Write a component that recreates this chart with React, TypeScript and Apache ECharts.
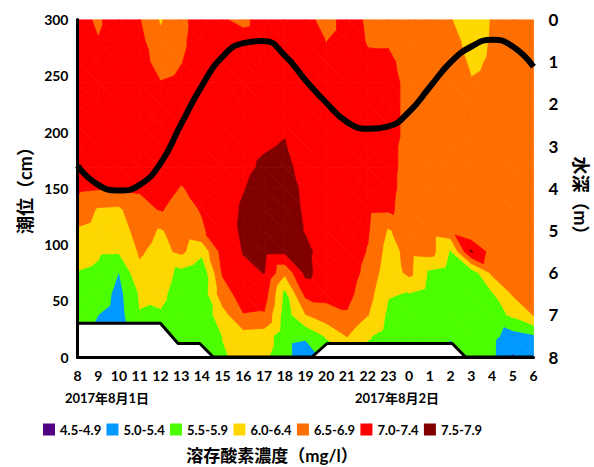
import React, { useEffect, useRef } from "react";
import * as echarts from "echarts";

// hour labels along the x axis (2017-08-01 08:00 .. 2017-08-02 06:00)
const hourLabels = ["8", "9", "10", "11", "12", "13", "14", "15", "16", "17", "18", "19", "20", "21", "22", "23", "0", "1", "2", "3", "4", "5", "6"];
// depth rows of the dissolved-oxygen grid (m)
const depths = [0, 0.5, 1, 1.5, 2, 2.5, 3, 3.5, 4, 4.5, 5, 5.5, 6, 6.5, 7, 7.5, 8];
// dissolved oxygen (mg/l): one profile per hour, top (0 m) to bottom (8 m)
const do08 = [7.22, 7.2, 7.25, 7.3, 7.3, 7.3, 7.25, 7.2, 7.1, 6.82, 6.44, 6.21, 5.98, 5.9, 5.8, 5.75, 5.7];
const do09 = [6.9, 7.02, 7.2, 7.25, 7.3, 7.3, 7.25, 7.15, 7.04, 6.45, 6.3, 6.07, 5.9, 5.75, 5.5, 5.35, 5.3];
const do10 = [7.4, 7.35, 7.3, 7.3, 7.3, 7.25, 7.2, 7.15, 7.03, 6.42, 6.25, 6.05, 5.49, 5.35, 5.3, 5.25, 5.2];
const do11 = [7.02, 7.14, 7.2, 7.25, 7.3, 7.3, 7.25, 7.15, 7.05, 6.85, 6.7, 6.55, 6.4, 6.05, 5.98, 5.85, 5.8];
const do12 = [6.45, 6.6, 6.8, 7.02, 7.2, 7.3, 7.3, 7.25, 7.15, 7.03, 6.45, 6.35, 6.25, 6.12, 5.95, 5.8, 5.7];
const do13 = [6.85, 6.9, 6.98, 7.1, 7.2, 7.2, 7.15, 7.1, 6.98, 6.85, 6.75, 6.6, 5.85, 5.75, 5.7, 5.65, 5.6];
const do14 = [7.29, 7.25, 7.25, 7.25, 7.25, 7.2, 7.2, 7.15, 7.1, 7.03, 6.94, 6.12, 5.6, 5.65, 5.65, 5.6, 5.6];
const do15 = [7.05, 7.2, 7.25, 7.3, 7.3, 7.3, 7.35, 7.35, 7.3, 7.3, 7.25, 7.2, 7.05, 6.8, 6.3, 6.01, 5.96];
const do16 = [6.85, 7.22, 7.3, 7.35, 7.35, 7.4, 7.4, 7.42, 7.48, 7.55, 7.58, 7.52, 7.4, 7.2, 6.98, 6.3, 6.1];
const do17 = [7.3, 7.3, 7.35, 7.35, 7.4, 7.42, 7.47, 7.55, 7.65, 7.7, 7.7, 7.62, 7.51, 7.25, 6.95, 6.25, 6.1];
const do18 = [7.3, 7.3, 7.35, 7.4, 7.42, 7.46, 7.52, 7.6, 7.7, 7.75, 7.7, 7.6, 6.6, 5.85, 5.75, 5.7, 5.7];
const do19 = [7.25, 7.3, 7.3, 7.3, 7.3, 7.3, 7.3, 7.35, 7.4, 7.42, 7.47, 7.6, 7.63, 7.13, 6.48, 5.6, 5.1];
const do20 = [6.7, 6.98, 7.2, 7.3, 7.3, 7.3, 7.3, 7.3, 7.3, 7.3, 7.3, 7.3, 7.25, 7.15, 6.8, 6.05, 5.7];
const do21 = [7.3, 7.3, 7.3, 7.3, 7.3, 7.3, 7.3, 7.3, 7.3, 7.3, 7.3, 7.3, 7.25, 7.15, 6.95, 6.52, 5.9];
const do22 = [6.9, 6.95, 7.1, 7.2, 7.2, 7.2, 7.2, 7.2, 7.15, 7.1, 7.05, 6.97, 6.85, 6.7, 6.52, 6.05, 5.8];
const do23 = [6.8, 6.95, 7.08, 7.15, 7.15, 7.15, 7.1, 7.1, 7.1, 7.08, 6.45, 6.3, 6.2, 6.03, 5.9, 5.8, 5.7];
const do00 = [6.75, 6.8, 6.85, 6.88, 6.88, 6.88, 6.88, 6.88, 6.85, 6.8, 6.75, 6.65, 6.62, 5.98, 5.85, 5.75, 5.7];
const do01 = [6.7, 6.75, 6.8, 6.8, 6.8, 6.8, 6.8, 6.8, 6.8, 6.75, 6.7, 6.7, 5.9, 5.8, 5.75, 5.7, 5.65];
const do02 = [6.52, 6.64, 6.77, 6.8, 6.8, 6.8, 6.8, 6.8, 6.8, 6.8, 6.84, 5.95, 5.75, 5.7, 5.65, 5.55, 5.3];
const do03 = [6.3, 6.35, 6.42, 6.53, 6.65, 6.7, 6.75, 6.75, 6.75, 6.7, 6.53, 7.55, 5.7, 5.65, 5.6, 5.58, 5.55];
const do04 = [6.52, 6.53, 6.55, 6.6, 6.65, 6.7, 6.7, 6.7, 6.7, 6.7, 6.7, 6.76, 6.6, 5.95, 5.75, 5.62, 5.6];
const do05 = [6.55, 6.6, 6.65, 6.7, 6.7, 6.7, 6.7, 6.7, 6.7, 6.7, 6.7, 6.7, 6.65, 6.55, 6.1, 5.3, 4.95];
const do06 = [6.6, 6.62, 6.65, 6.7, 6.7, 6.7, 6.7, 6.7, 6.7, 6.7, 6.7, 6.7, 6.68, 6.65, 6.52, 5.45, 5.3];
const doProfiles = [do08, do09, do10, do11, do12, do13, do14, do15, do16, do17, do18, do19, do20, do21, do22, do23, do00, do01, do02, do03, do04, do05, do06];

// tide level (cm), hourly
const tideLevel = [170, 153, 148, 153, 172, 207, 241, 267, 279, 281, 268, 246, 226, 209, 203, 205, 218, 240, 262, 276, 282, 276, 258];

// sea-bed outline (hour index, cm on the tide axis)
const seabedHour = [0, 4, 4.85, 5.9, 6.55, 11.31, 12.04, 18.08, 18.72, 22];
const seabedLevel = [30, 30, 12, 12, 0, 0, 12, 12, 0, 0];

// concentration classes
const bandLabels = ["4.5-4.9", "5.0-5.4", "5.5-5.9", "6.0-6.4", "6.5-6.9", "7.0-7.4", "7.5-7.9"];
const bandLower = [-Infinity, 5.0, 5.5, 6.0, 6.5, 7.0, 7.5];
const bandUpper = [5.0, 5.5, 6.0, 6.5, 7.0, 7.5, Infinity];
const bandColors = ["#520082", "#0099FF", "#4CFF00", "#FFD700", "#FF6E00", "#FF0000", "#800000"];

type P = { x: number; d: number; v: number };

function clip(poly: P[], t: number, above: boolean): P[] {
  const out: P[] = [];
  const n = poly.length;
  for (let k = 0; k < n; k++) {
    const a = poly[k];
    const b = poly[(k + 1) % n];
    const ain = above ? a.v >= t : a.v <= t;
    const bin = above ? b.v >= t : b.v <= t;
    if (ain) out.push(a);
    if (ain !== bin) {
      const s = (t - a.v) / (b.v - a.v);
      out.push({ x: a.x + s * (b.x - a.x), d: a.d + s * (b.d - a.d), v: t });
    }
  }
  return out;
}

function bandRenderer(b: number) {
  const lo = bandLower[b];
  const hi = bandUpper[b];
  const color = bandColors[b];
  return (_params: any, api: any) => {
    const children: any[] = [];
    for (let i = 0; i < doProfiles.length - 1; i++) {
      for (let j = 0; j < depths.length - 1; j++) {
        const p00 = { x: i, d: depths[j], v: doProfiles[i][j] };
        const p10 = { x: i + 1, d: depths[j], v: doProfiles[i + 1][j] };
        const p01 = { x: i, d: depths[j + 1], v: doProfiles[i][j + 1] };
        const p11 = { x: i + 1, d: depths[j + 1], v: doProfiles[i + 1][j + 1] };
        const tris = [
          [p00, p10, p11],
          [p00, p11, p01],
        ];
        for (const tri of tris) {
          const vs = tri.map((p) => p.v);
          if (Math.max(...vs) < lo || Math.min(...vs) > hi) continue;
          let poly: P[] = tri;
          if (isFinite(lo)) poly = clip(poly, lo, true);
          if (poly.length >= 3 && isFinite(hi)) poly = clip(poly, hi, false);
          if (poly.length < 3) continue;
          const pts = poly.map((p) => api.coord([p.x, p.d]));
          children.push({
            type: "polygon",
            shape: { points: pts },
            style: { fill: color, stroke: color, lineWidth: 0.8 },
            silent: true,
          });
        }
      }
    }
    return { type: "group", children };
  };
}

const numFont = "Lato";
const cjkFont = "Lato, 'Noto Sans CJK JP'";

export default function App() {
  const ref = useRef<HTMLDivElement>(null);
  useEffect(() => {
    const chart = echarts.init(ref.current!, null, { renderer: "svg" });
    const bandSeries = bandLabels.map((name, b) => ({
      type: "custom",
      name,
      xAxisIndex: 0,
      yAxisIndex: 1,
      z: 1,
      silent: true,
      clip: true,
      itemStyle: { color: bandColors[b] },
      data: [[0, 0]],
      renderItem: bandRenderer(b),
    }));
    const option: any = {
      animation: false,
      backgroundColor: "#ffffff",
      grid: { left: 77.5, top: 19.5, width: 456, height: 337.5 },
      xAxis: {
        type: "value",
        min: 0,
        max: 22,
        interval: 1,
        z: 10,
        axisLine: { show: true, lineStyle: { color: "#000", width: 3 } },
        axisTick: { show: false },
        splitLine: { show: false },
        axisLabel: {
          formatter: (v: number) => hourLabels[Math.round(v)] ?? "",
          color: "#000",
          fontSize: 14,
          fontWeight: "bold",
          fontFamily: numFont,
          margin: 11,
        },
      },
      yAxis: [
        {
          type: "value",
          position: "left",
          min: 0,
          max: 300,
          interval: 50,
          z: 10,
          axisLine: { show: true, lineStyle: { color: "#000", width: 3 } },
          axisTick: { show: false },
          splitLine: { show: false },
          axisLabel: { color: "#000", fontSize: 14, fontWeight: "bold", fontFamily: numFont, margin: 9 },
        },
        {
          type: "value",
          position: "right",
          min: 0,
          max: 8,
          interval: 1,
          inverse: true,
          z: 10,
          axisLine: { show: false },
          axisTick: { show: false },
          splitLine: { show: false },
          axisLabel: { color: "#000", fontSize: 17, fontWeight: "bold", fontFamily: numFont, margin: 15 },
        },
      ],
      legend: {
        data: bandLabels,
        left: 38,
        top: 418,
        icon: "rect",
        itemWidth: 12,
        itemHeight: 12,
        itemGap: 5.3,
        selectedMode: false,
        textStyle: { color: "#000", fontSize: 13, fontWeight: "bold", fontFamily: numFont },
      },
      graphic: [
        {
          type: "text",
          x: 107,
          y: 398,
          style: { text: "2017年8月1日", fill: "#000", font: `bold 13px ${cjkFont}`, align: "center", verticalAlign: "middle" },
        },
        {
          type: "text",
          x: 397,
          y: 398,
          style: { text: "2017年8月2日", fill: "#000", font: `bold 13px ${cjkFont}`, align: "center", verticalAlign: "middle" },
        },
        {
          type: "text",
          x: 272,
          y: 455,
          style: { text: "溶存酸素濃度（mg/l）", fill: "#000", font: `bold 17px ${cjkFont}`, align: "center", verticalAlign: "middle" },
        },
        {
          type: "text",
          x: 25,
          y: 186,
          rotation: Math.PI / 2,
          style: { text: "潮位（cm）", fill: "#000", font: `bold 18px ${cjkFont}`, align: "center", verticalAlign: "middle" },
        },
        {
          type: "text",
          x: 581,
          y: 200,
          rotation: -Math.PI / 2,
          style: { text: "水深（m）", fill: "#000", font: `bold 18px ${cjkFont}`, align: "center", verticalAlign: "middle" },
        },
      ],
      series: [
        ...bandSeries,
        {
          type: "line",
          name: "seabed",
          xAxisIndex: 0,
          yAxisIndex: 0,
          z: 5,
          silent: true,
          clip: false,
          symbol: "none",
          data: seabedHour.map((h, k) => [h, seabedLevel[k]]),
          lineStyle: { color: "#000", width: 3 },
          areaStyle: { color: "#ffffff", opacity: 1 },
        },
        {
          type: "line",
          name: "tide",
          xAxisIndex: 0,
          yAxisIndex: 0,
          z: 6,
          silent: true,
          symbol: "none",
          smooth: true,
          data: tideLevel.map((v, k) => [k, v]),
          lineStyle: { color: "#000", width: 6 },
        },
      ],
    };
    chart.setOption(option);
    return () => chart.dispose();
  }, []);
  return (
    <div
      ref={ref}
      style={{ position: "fixed", left: 0, top: 0, width: 594, height: 467, background: "#fff" }}
    />
  );
}
